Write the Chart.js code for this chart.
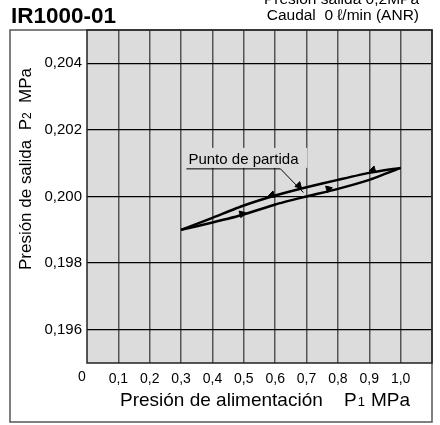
<!DOCTYPE html>
<html>
<head>
<meta charset="utf-8">
<script src="https://cdn.jsdelivr.net/npm/chart.js@4"></script>
<style>
  html, body { margin: 0; padding: 0; background: #fff; }
  #wrap { width: 440px; height: 425px; position: relative; }
</style>
</head>
<body>
<div id="wrap"><canvas id="chart"></canvas></div>
<script>
// supply pressure P1 (MPa)
const supplyPressure = [0.3, 0.4, 0.5, 0.6, 0.7, 0.8, 0.9, 1.0]
// outlet pressure P2 while P1 rises / falls (MPa)
const outletRising = [0.1990, 0.19922, 0.19946, 0.19976, 0.20000, 0.20023, 0.20050, 0.20086]
const outletFalling = [0.1990, 0.19936, 0.19973, 0.20003, 0.20028, 0.20050, 0.20071, 0.20086]

// direction arrows drawn on the curves
const arrowP1 = [0.494, 0.770, 0.590, 0.912]
const arrowP2 = [0.19948, 0.20023, 0.20005, 0.20080]

// "Punto de partida" leader line
const leaderP1 = [0.317, 0.617, 0.690]
const leaderP2 = [0.20083, 0.20083, 0.20012]

const xTicks = [0, 0.1, 0.2, 0.3, 0.4, 0.5, 0.6, 0.7, 0.8, 0.9, 1.0, 1.1]
const xTickLabels = ["", "0,1", "0,2", "0,3", "0,4", "0,5", "0,6", "0,7", "0,8", "0,9", "1,0", ""]
const yTicks = [0.196, 0.198, 0.200, 0.202, 0.204]
const yTickLabels = ["0,196", "0,198", "0,200", "0,202", "0,204"]

const FONT = "'Liberation Sans', Arial, sans-serif"
const PLOT_BG = "#dcdcdc"

const toPoints = (xs, ys) => xs.map((x, i) => ({ x: x, y: ys[i] }))

// draws a run of [text, size] pieces, spread out to a given total width
function drawRun(ctx, pieces, x, y, totalWidth) {
  let w = 0, n = 0
  pieces.forEach(([t, s]) => {
    ctx.font = s + "px " + FONT
    w += ctx.measureText(t).width
    n += t.length
  })
  const gap = (totalWidth - w) / n
  pieces.forEach(([t, s]) => {
    ctx.font = s + "px " + FONT
    for (const ch of t) {
      ctx.fillText(ch, x, y)
      x += ctx.measureText(ch).width + gap
    }
  })
}

const frame = {
  id: "frame",
  beforeDraw(chart) {
    const { ctx, chartArea: a } = chart
    ctx.save()
    ctx.fillStyle = PLOT_BG
    ctx.fillRect(a.left, a.top, a.right - a.left, a.bottom - a.top)
    ctx.restore()
  },
  beforeDatasetsDraw(chart) {
    // gray patch behind the annotation, interrupting the grid
    const { ctx, scales } = chart
    const x0 = scales.x.getPixelForValue(leaderP1[0])
    const y0 = scales.y.getPixelForValue(leaderP2[0])
    ctx.save()
    ctx.fillStyle = PLOT_BG
    ctx.fillRect(x0 - 1, y0 - 21, 122, 20)
    ctx.restore()
  },
  afterDraw(chart) {
    const { ctx, chartArea: a, scales } = chart
    ctx.save()
    // outer frame
    ctx.strokeStyle = "#555"
    ctx.lineWidth = 1.5
    ctx.strokeRect(10, a.top, a.right - 10, 422 - a.top)
    // plot border
    ctx.strokeStyle = "#222"
    ctx.lineWidth = 1.5
    ctx.strokeRect(a.left, a.top, a.right - a.left, a.bottom - a.top)

    ctx.fillStyle = "#000"
    ctx.textBaseline = "alphabetic"
    ctx.font = "bold 22.5px " + FONT
    ctx.textAlign = "left"
    ctx.fillText("IR1000-01", 11, 23)

    ctx.font = "15.5px " + FONT
    ctx.textAlign = "right"
    ctx.fillText("Presión salida 0,2MPa", 419, 4)
    ctx.fillText("Caudal  0 ℓ/min (ANR)", 419, 20)

    // origin label
    ctx.font = "14px " + FONT
    ctx.textAlign = "center"
    ctx.textBaseline = "middle"
    ctx.fillText("0", 82, 377)

    // x axis title
    ctx.textBaseline = "alphabetic"
    ctx.textAlign = "left"
    ctx.font = "19px " + FONT
    ctx.fillText("Presión de alimentación", 120, 406)
    ctx.fillText("P", 344, 406)
    const pw = ctx.measureText("P").width
    ctx.font = "13px " + FONT
    ctx.fillText("1", 344 + pw + 1, 406)
    ctx.font = "19px " + FONT
    ctx.fillText("MPa", 371, 406)

    // y axis title
    ctx.save()
    ctx.translate(31, 270)
    ctx.rotate(-Math.PI / 2)
    drawRun(ctx, [["Presión de salida  P", 17], ["2", 12], ["  MPa", 17]], 0, 0, 202)
    ctx.restore()

    // annotation text
    ctx.font = "15px " + FONT
    ctx.textAlign = "left"
    ctx.textBaseline = "alphabetic"
    ctx.fillText("Punto de partida", scales.x.getPixelForValue(leaderP1[0]) + 2, scales.y.getPixelForValue(leaderP2[0]) - 5)
    ctx.restore()
  }
}

new Chart(document.getElementById("chart"), {
  type: "scatter",
  data: {
    datasets: [
      {
        data: toPoints(supplyPressure, outletRising),
        showLine: true,
        borderColor: "#000",
        borderWidth: 2.5,
        pointRadius: 0,
        tension: 0.2
      },
      {
        data: toPoints(supplyPressure, outletFalling),
        showLine: true,
        borderColor: "#000",
        borderWidth: 2.5,
        pointRadius: 0,
        tension: 0.2
      },
      {
        data: toPoints(arrowP1, arrowP2),
        showLine: false,
        pointStyle: "triangle",
        pointRadius: 4,
        rotation: [74, 74, 254, 254],
        backgroundColor: "#000",
        borderColor: "#000",
        borderWidth: 1
      },
      {
        data: toPoints(leaderP1, leaderP2),
        showLine: true,
        borderColor: "#000",
        borderWidth: 1,
        pointRadius: 0,
        tension: 0
      },
      {
        data: [{ x: 0.675, y: 0.20033 }],
        showLine: false,
        pointStyle: "triangle",
        pointRadius: 4,
        rotation: 135,
        backgroundColor: "#000",
        borderColor: "#000",
        borderWidth: 1
      }
    ]
  },
  options: {
    responsive: true,
    maintainAspectRatio: false,
    animation: false,
    layout: { padding: { top: 30, right: 5, left: 0, bottom: 0 } },
    plugins: {
      legend: { display: false },
      tooltip: { enabled: false }
    },
    scales: {
      x: {
        type: "linear",
        min: 0,
        max: 1.1,
        afterBuildTicks: (axis) => { axis.ticks = xTicks.map(v => ({ value: v })) },
        afterFit: (axis) => { axis.height = 62 },
        border: { display: false },
        grid: {
          color: (c) => (c.index === 0 || c.index === xTicks.length - 1) ? "rgba(0,0,0,0)" : "#555",
          lineWidth: 1.5,
          drawTicks: false
        },
        ticks: {
          color: "#000",
          padding: 8,
          maxRotation: 0,
          autoSkip: false,
          font: { family: FONT, size: 14 },
          callback: (v, i) => xTickLabels[i]
        }
      },
      y: {
        type: "linear",
        min: 0.195,
        max: 0.205,
        afterBuildTicks: (axis) => { axis.ticks = yTicks.map(v => ({ value: v })) },
        afterFit: (axis) => { axis.width = 87 },
        border: { display: false },
        grid: {
          color: "#000",
          lineWidth: 1.2,
          drawTicks: false
        },
        ticks: {
          color: "#000",
          padding: 5,
          autoSkip: false,
          font: { family: FONT, size: 15 },
          callback: (v, i) => yTickLabels[i]
        }
      }
    }
  },
  plugins: [frame]
})
</script>
</body>
</html>
